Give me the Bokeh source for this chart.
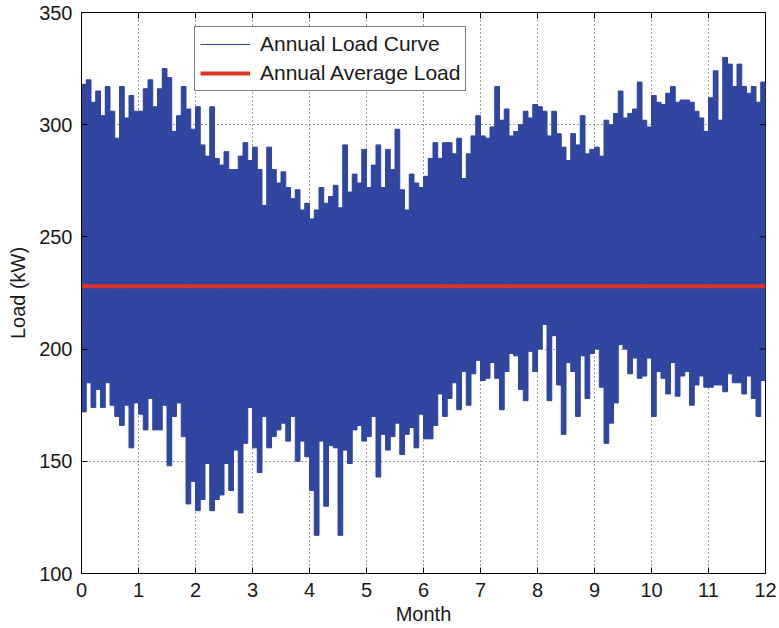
import numpy as np
from bokeh.plotting import figure
from bokeh.models import (Range1d, FixedTicker, Legend, LegendItem,
                          ColumnDataSource)
from bokeh.embed import file_html
from bokeh.resources import INLINE

# ---------------- data ----------------
month_ticks = [0, 1, 2, 3, 4, 5, 6, 7, 8, 9, 10, 11, 12]
load_ticks = [100, 150, 200, 250, 300, 350]
periods_per_month = 12  # each value covers 1/12 of a month

# upper envelope of the load curve (kW), 12 values per month
peak_load = [
    318, 320, 310, 315, 304, 317, 306, 294, 317, 303, 313, 306,   # month 0-1
    306, 316, 320, 308, 316, 325, 321, 297, 304, 317, 307, 298,   # 1-2
    308, 291, 286, 308, 285, 282, 288, 280, 280, 286, 292, 284,   # 2-3
    290, 280, 264, 290, 280, 274, 279, 272, 267, 271, 262, 265,   # 3-4
    258, 262, 272, 265, 268, 273, 263, 291, 270, 278, 274, 289,   # 4-5
    272, 282, 291, 272, 289, 280, 298, 271, 262, 278, 274, 272,   # 5-6
    277, 285, 292, 285, 292, 292, 287, 294, 276, 287, 295, 304,   # 6-7
    295, 294, 299, 317, 302, 307, 295, 297, 300, 306, 303, 309,   # 7-8
    308, 306, 295, 306, 296, 290, 284, 296, 291, 304, 287, 289,   # 8-9
    290, 286, 302, 300, 305, 315, 303, 305, 307, 319, 302, 299,   # 9-10
    313, 310, 309, 314, 317, 310, 311, 311, 310, 306, 303, 297,   # 10-11
    312, 324, 302, 330, 327, 317, 327, 317, 314, 317, 310, 319,   # 11-12
]

# lower envelope of the load curve (kW), 12 values per month
trough_load = [
    172, 185, 174, 182, 174, 185, 175, 170, 166, 175, 156, 176,
    171, 164, 178, 164, 164, 175, 148, 170, 176, 161, 131, 141,
    128, 133, 149, 128, 133, 135, 149, 137, 155, 127, 158, 174,
    156, 145, 170, 156, 161, 164, 167, 159, 170, 150, 159, 152,
    137, 117, 159, 130, 157, 156, 117, 155, 149, 164, 166, 159,
    161, 170, 143, 162, 155, 161, 167, 153, 162, 165, 156, 171,
    160, 160, 166, 180, 170, 178, 185, 173, 190, 175, 189, 195,
    186, 187, 194, 187, 173, 190, 198, 197, 182, 177, 199, 190,
    200, 211, 177, 206, 184, 162, 194, 190, 170, 197, 178, 198,
    200, 183, 158, 167, 176, 202, 200, 189, 196, 187, 188, 196,
    170, 190, 187, 180, 194, 179, 188, 190, 175, 184, 188, 183,
    183, 184, 184, 181, 189, 185, 185, 180, 188, 178, 170, 186,
]

avg_load = 228  # annual average load (kW)

# ---------------- build sources ----------------
n = len(peak_load)
left = np.arange(n) / periods_per_month
right = left + 1.0 / periods_per_month
band_src = ColumnDataSource(dict(left=left, right=right,
                                 top=peak_load, bottom=trough_load))

zig_x = np.empty(2 * n)
zig_y = np.empty(2 * n)
zig_x[0::2] = left + 0.25 / periods_per_month
zig_x[1::2] = left + 0.75 / periods_per_month
zig_y[0::2] = peak_load
zig_y[1::2] = trough_load

BLUE = "#3146A0"
RED = "#DD3328"
FONT = "Liberation Sans"

p = figure(width=779, height=628,
           x_range=Range1d(month_ticks[0], month_ticks[-1]),
           y_range=Range1d(load_ticks[0], load_ticks[-1]),
           output_backend="svg", toolbar_location=None,
           min_border_left=81, min_border_right=14,
           min_border_top=12, min_border_bottom=55)
p.background_fill_color = "white"
p.border_fill_color = "white"
p.outline_line_color = "black"
p.outline_line_width = 1

# load curve
p.quad(left="left", right="right", top="top", bottom="bottom",
       source=band_src, fill_color=BLUE, line_color=BLUE, line_width=1)
curve = p.line(zig_x, zig_y, line_color=BLUE, line_width=1.2)

# annual average
edges = np.append(left, right[-1])
avg = p.line(edges, [avg_load] * len(edges), line_color=RED, line_width=4)

# inward ticks on the top and right edges of the box
p.scatter(month_ticks, [load_ticks[-1]] * len(month_ticks), marker="dash",
          angle=np.pi / 2, size=12, line_color="black", line_width=1)
p.scatter([month_ticks[-1]] * len(load_ticks), load_ticks, marker="dash",
          size=12, line_color="black", line_width=1)

# axes
for ax in (p.xaxis[0], p.yaxis[0]):
    ax.major_tick_in = 6
    ax.major_tick_out = 0
    ax.minor_tick_line_color = None
    ax.major_label_text_font = FONT
    ax.major_label_text_font_size = "20px"
    ax.major_label_text_color = "#1a1a1a"
    ax.axis_label_text_font = FONT
    ax.axis_label_text_font_size = "20px"
    ax.axis_label_text_font_style = "normal"
    ax.axis_label_text_color = "#1a1a1a"
    ax.axis_line_color = "black"
    ax.major_tick_line_color = "black"
    ax.major_label_standoff = 9

p.xaxis.ticker = FixedTicker(ticks=month_ticks)
p.yaxis.ticker = FixedTicker(ticks=load_ticks)
p.xaxis.axis_label = "Month"
p.yaxis.axis_label = "Load (kW)"
p.xaxis.axis_label_standoff = 3
p.yaxis.axis_label_standoff = 7

# grid
p.xgrid.ticker = FixedTicker(ticks=month_ticks)
p.ygrid.ticker = FixedTicker(ticks=load_ticks)
for g in (p.xgrid[0], p.ygrid[0]):
    g.grid_line_color = "black"
    g.grid_line_alpha = 0.75
    g.grid_line_dash = "1 3"
    g.grid_line_width = 1

# legend
legend = Legend(items=[LegendItem(label="Annual Load Curve", renderers=[curve]),
                       LegendItem(label="Annual Average Load", renderers=[avg])],
                location=(113, 482), orientation="vertical",
                label_text_font=FONT, label_text_font_size="21px",
                label_text_color="#1a1a1a",
                glyph_width=50, glyph_height=20, label_height=20,
                label_standoff=10, spacing=5, padding=5, margin=0,
                border_line_color="black", border_line_width=1,
                background_fill_color="white", background_fill_alpha=1)
p.add_layout(legend, "center")

open("out.html", "w").write(file_html(p, INLINE))
